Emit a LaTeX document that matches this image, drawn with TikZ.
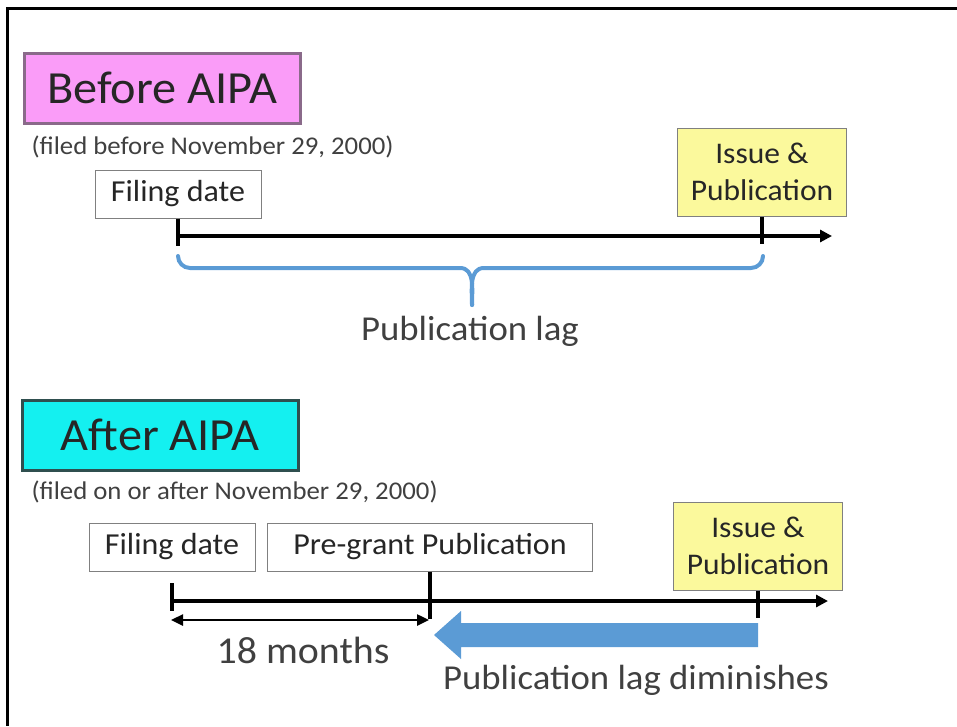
\documentclass[tikz,border=0pt]{standalone}
\usepackage{fontspec}
\setmainfont{Carlito}[FakeStretch=1.05]
\usetikzlibrary{arrows.meta,positioning}
\definecolor{titlepink}{HTML}{FA9CF8}
\definecolor{pinkedge}{HTML}{8A6A8A}
\definecolor{titlecyan}{HTML}{14F0F0}
\definecolor{cyanedge}{HTML}{2F4F4F}
\definecolor{issueyellow}{HTML}{FBF99C}
\definecolor{lagblue}{HTML}{5B9BD5}
\definecolor{textgray}{HTML}{404040}
\begin{document}
\begin{tikzpicture}[
       x=1pt, y=-1pt,
       title/.style={rectangle, draw, line width=3pt, minimum width=276pt, minimum height=70pt, font=\fontsize{46}{52}\selectfont, text=black!85},
       note/.style={anchor=west, font=\fontsize{25.5}{30}\selectfont, text=textgray},
       datebox/.style={rectangle, draw=black!50, line width=1pt, minimum height=48pt, font=\fontsize{30.5}{36}\selectfont, text=black!85, fill=white},
       issuebox/.style={datebox, fill=issueyellow, minimum width=169pt, minimum height=88pt, align=center, font=\fontsize{30}{37}\selectfont},
       label/.style={font=\fontsize{35}{40}\selectfont, text=textgray},
       timeline/.style={line width=4pt, -{Triangle[length=12pt,width=12pt]}},
       tick/.style={line width=4pt},
       span/.style={line width=2.5pt, {Triangle[length=12pt,width=11pt]}-{Triangle[length=12pt,width=11pt]}},
       brace/.style={line width=4pt, lagblue, line cap=round},
       lagarrow/.style={fill=lagblue}
   ]
   \useasboundingbox (0,0) rectangle (957,726);
   \draw[line width=3pt] (957,8) -- (7,8) -- (7,726);

   % before AIPA
   \node[title, fill=titlepink, draw=pinkedge] (before) at (162,88) {Before AIPA};
   \node[note] (beforenote) at (28,147) {(filed before November 29, 2000)};
   \node[datebox, minimum width=166pt] (filing1) at (178,194) {Filing date};
   \node[issuebox] (issue1) at (762,172) {Issue \&\\Publication};
   \coordinate (start1) at (178,236);
   \coordinate (end1) at (832,236);
   \draw[timeline] (start1) -- (end1);
   \draw[tick] (filing1.south) -- ++(0,27);
   \draw[tick] (issue1.south) -- ++(0,27);

   \coordinate (bl) at (178,256);
   \coordinate (br) at (763,256);
   \coordinate (btip) at (472,305);
   \draw[brace] (bl) to[out=-90,in=180] (190,268) -- (460,268) to[out=0,in=90] (btip);
   \draw[brace] (br) to[out=-90,in=0] (751,268) -- (484,268) to[out=180,in=90] (btip);
   \node[label] (lag1) at (470,331) {Publication lag};

   % after AIPA
   \node[title, fill=titlecyan, draw=cyanedge] (after) at (160,435) {After AIPA};
   \node[note] (afternote) at (28,492) {(filed on or after November 29, 2000)};
   \node[datebox, minimum width=166pt] (filing2) at (172,547) {Filing date};
   \node[datebox, minimum width=325pt] (pregrant) at (430,547) {Pre-grant Publication};
   \node[issuebox] (issue2) at (758,546) {Issue \&\\Publication};
   \coordinate (start2) at (172,601);
   \coordinate (end2) at (828,601);
   \draw[timeline] (start2) -- (end2);
   \draw[tick] (172,583) -- (172,611);
   \draw[tick] (pregrant.south) -- ++(0,47);
   \draw[tick] (issue2.south) -- ++(0,27);

   \coordinate (m0) at (171,620);
   \coordinate (m1) at (429,620);
   \draw[span] (m0) -- (m1);
   \node[label, font=\fontsize{38}{42}\selectfont] (months) at (303,650) {18 months};

   \fill[lagarrow] (758,623) -- (461,623) -- (461,611) -- (434,635) -- (461,659) -- (461,647) -- (758,647) -- cycle;
   \node[label] (lag2) at (636,680) {Publication lag diminishes};
\end{tikzpicture}
\end{document}
